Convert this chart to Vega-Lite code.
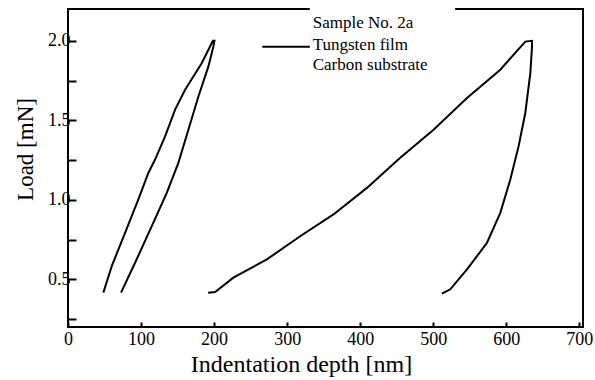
{
  "$schema": "https://vega.github.io/schema/vega-lite/v6.json",
  "width": 515,
  "height": 318,
  "autosize": {"type": "none"},
  "padding": {"left": 68, "top": 9, "right": 12, "bottom": 53},
  "background": "white",
  "config": {
    "view": {"stroke": "#000", "strokeWidth": 2},
    "font": "Liberation Serif",
    "axis": {"grid": false, "domain": false, "labelFont": "Liberation Serif", "titleFont": "Liberation Serif", "labelColor": "#000", "titleColor": "#000", "tickColor": "#000", "titleFontWeight": "normal"}
  },
  "datasets": {
    "curves": [
      {"loop": "A", "i": 1, "depth": 48.4, "load": 0.416},
      {"loop": "A", "i": 2, "depth": 59.9, "load": 0.583},
      {"loop": "A", "i": 3, "depth": 78.1, "load": 0.792},
      {"loop": "A", "i": 4, "depth": 96.3, "load": 1.002},
      {"loop": "A", "i": 5, "depth": 110.0, "load": 1.169},
      {"loop": "A", "i": 6, "depth": 119.2, "load": 1.253},
      {"loop": "A", "i": 7, "depth": 132.9, "load": 1.399},
      {"loop": "A", "i": 8, "depth": 146.6, "load": 1.567},
      {"loop": "A", "i": 9, "depth": 160.3, "load": 1.692},
      {"loop": "A", "i": 10, "depth": 171.6, "load": 1.776},
      {"loop": "A", "i": 11, "depth": 183.2, "load": 1.86},
      {"loop": "A", "i": 12, "depth": 196.8, "load": 1.986},
      {"loop": "A", "i": 13, "depth": 198.5, "load": 2.0},
      {"loop": "A", "i": 14, "depth": 200.5, "load": 2.0},
      {"loop": "A", "i": 15, "depth": 199.0, "load": 1.964},
      {"loop": "A", "i": 16, "depth": 192.2, "load": 1.839},
      {"loop": "A", "i": 17, "depth": 178.5, "load": 1.65},
      {"loop": "A", "i": 18, "depth": 164.8, "load": 1.441},
      {"loop": "A", "i": 19, "depth": 151.1, "load": 1.232},
      {"loop": "A", "i": 20, "depth": 135.2, "load": 1.044},
      {"loop": "A", "i": 21, "depth": 114.7, "load": 0.834},
      {"loop": "A", "i": 22, "depth": 91.8, "load": 0.604},
      {"loop": "A", "i": 23, "depth": 72.6, "load": 0.416},
      {"loop": "B", "i": 1, "depth": 191.8, "load": 0.416},
      {"loop": "B", "i": 2, "depth": 201.4, "load": 0.42},
      {"loop": "B", "i": 3, "depth": 226.4, "load": 0.51},
      {"loop": "B", "i": 4, "depth": 272.2, "load": 0.625},
      {"loop": "B", "i": 5, "depth": 317.8, "load": 0.771},
      {"loop": "B", "i": 6, "depth": 363.4, "load": 0.908},
      {"loop": "B", "i": 7, "depth": 409.2, "load": 1.075},
      {"loop": "B", "i": 8, "depth": 454.8, "load": 1.264},
      {"loop": "B", "i": 9, "depth": 500.4, "load": 1.441},
      {"loop": "B", "i": 10, "depth": 546.2, "load": 1.64},
      {"loop": "B", "i": 11, "depth": 591.8, "load": 1.818},
      {"loop": "B", "i": 12, "depth": 626.0, "load": 1.995},
      {"loop": "B", "i": 13, "depth": 635.2, "load": 2.0},
      {"loop": "B", "i": 14, "depth": 635.2, "load": 1.964},
      {"loop": "B", "i": 15, "depth": 632.9, "load": 1.797},
      {"loop": "B", "i": 16, "depth": 626.0, "load": 1.546},
      {"loop": "B", "i": 17, "depth": 616.8, "load": 1.336},
      {"loop": "B", "i": 18, "depth": 605.5, "load": 1.127},
      {"loop": "B", "i": 19, "depth": 591.8, "load": 0.918},
      {"loop": "B", "i": 20, "depth": 573.6, "load": 0.73},
      {"loop": "B", "i": 21, "depth": 546.2, "load": 0.562},
      {"loop": "B", "i": 22, "depth": 523.3, "load": 0.437},
      {"loop": "B", "i": 23, "depth": 511.9, "load": 0.41}
    ],
    "legendbox": [{"x1": 331, "x2": 530, "y1": 1.735, "y2": 2.26}],
    "legendline": [{"x1": 266, "x2": 331, "y": 1.962}],
    "legendtext": [
      {"x": 335, "y": 2.113, "text": "Sample No. 2a"},
      {"x": 335, "y": 1.975, "text": "Tungsten film"},
      {"x": 335, "y": 1.849, "text": "Carbon substrate"}
    ]
  },
  "layer": [
    {
      "data": {"name": "curves"},
      "mark": {"type": "line", "color": "#000", "strokeWidth": 2, "strokeJoin": "miter"},
      "encoding": {
        "x": {
          "field": "depth", "type": "quantitative",
          "scale": {"domain": [0, 705], "nice": false, "zero": false},
          "axis": {
            "title": "Indentation depth [nm]", "titleFont": "Liberation Serif", "titleFontSize": 24, "titleFontWeight": "normal", "titlePadding": 4, "titleX": 233,
            "values": [0, 50, 100, 150, 200, 250, 300, 350, 400, 450, 500, 550, 600, 650, 700],
            "labelExpr": "datum.value % 100 === 0 ? datum.label : ''",
            "labelFont": "Liberation Serif", "labelFontSize": 18, "tickSize": -5, "tickWidth": 2, "labelPadding": 8, "labelFlush": false
          }
        },
        "y": {
          "field": "load", "type": "quantitative",
          "scale": {"domain": [0.2, 2.2], "nice": false, "zero": false},
          "axis": {
            "title": "Load [mN]", "titleFont": "Liberation Serif", "titleFontSize": 23, "titleFontWeight": "normal", "titlePadding": 10, "titleY": 140,
            "values": [0.25, 0.5, 0.75, 1.0, 1.25, 1.5, 1.75, 2.0],
            "labelExpr": "(datum.value * 2) % 1 === 0 ? format(datum.value, '.1f') : ''",
            "labelFont": "Liberation Serif", "labelFontSize": 18, "tickSize": -8, "tickWidth": 2, "labelPadding": 6
          }
        },
        "detail": {"field": "loop"},
        "order": {"field": "i", "type": "quantitative"}
      }
    },
    {
      "data": {"name": "legendbox"},
      "mark": {"type": "rect", "fill": "white", "stroke": null},
      "encoding": {
        "x": {"field": "x1", "type": "quantitative"},
        "x2": {"field": "x2"},
        "y": {"field": "y1", "type": "quantitative"},
        "y2": {"field": "y2"}
      }
    },
    {
      "data": {"name": "legendline"},
      "mark": {"type": "rule", "color": "#000", "strokeWidth": 2},
      "encoding": {
        "x": {"field": "x1", "type": "quantitative"},
        "x2": {"field": "x2"},
        "y": {"field": "y", "type": "quantitative"}
      }
    },
    {
      "data": {"name": "legendtext"},
      "mark": {"type": "text", "align": "left", "baseline": "middle", "fontSize": 17, "font": "Liberation Serif", "color": "#000"},
      "encoding": {
        "x": {"field": "x", "type": "quantitative"},
        "y": {"field": "y", "type": "quantitative"},
        "text": {"field": "text"}
      }
    }
  ]
}
